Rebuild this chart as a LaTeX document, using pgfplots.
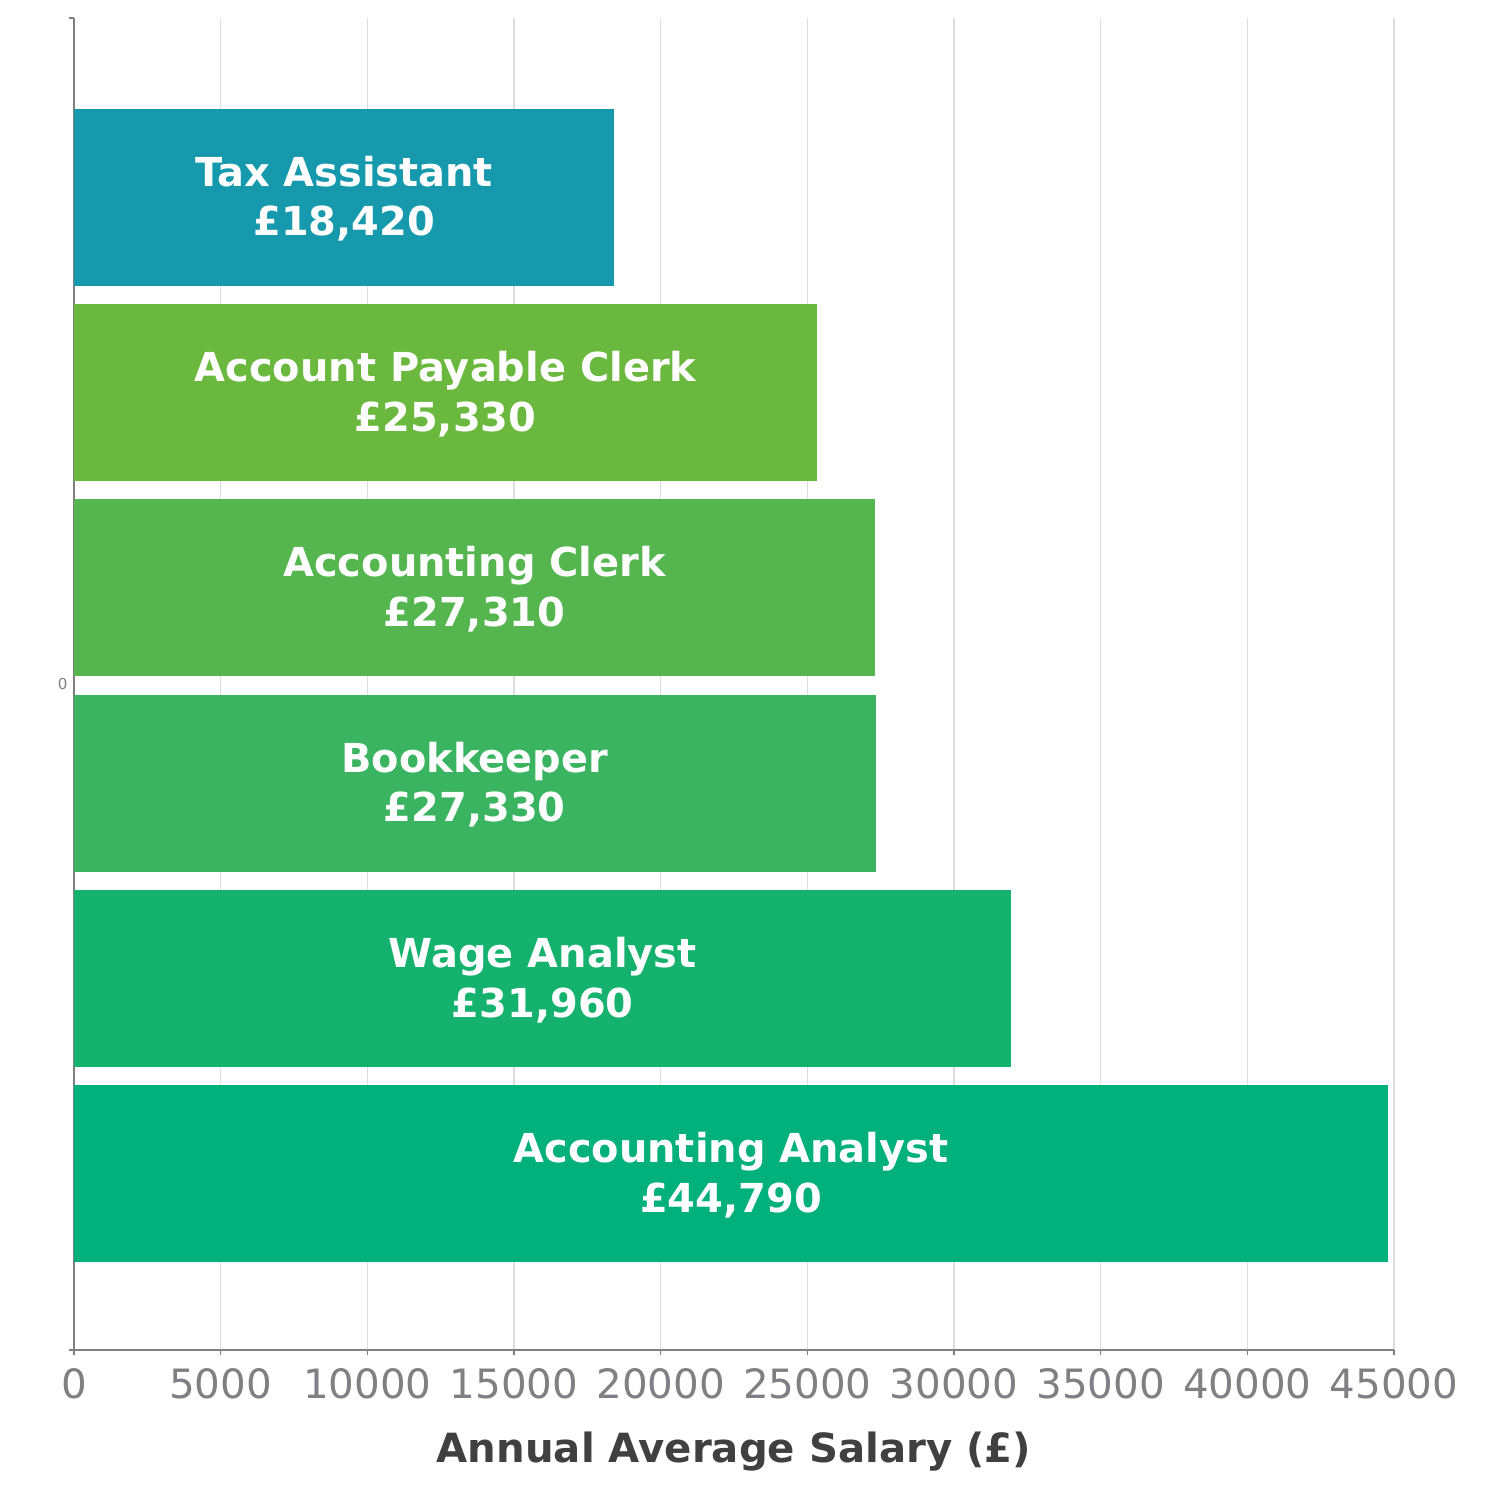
\documentclass[border=0pt]{standalone}
\usepackage{pgfplots}
\pgfplotsset{compat=1.18}
\usepackage{fontspec}
\setmainfont{DejaVu Sans}
\definecolor{cTax}{RGB}{22,153,173}
\definecolor{cPay}{RGB}{106,184,62}
\definecolor{cClerk}{RGB}{85,182,80}
\definecolor{cBook}{RGB}{58,180,96}
\definecolor{cWage}{RGB}{21,177,110}
\definecolor{cAna}{RGB}{2,176,124}
\definecolor{axgray}{RGB}{128,128,128}
\definecolor{tickgray}{RGB}{128,128,132}
\definecolor{gridgray}{RGB}{221,221,221}
\definecolor{labgray}{RGB}{64,64,64}
\begin{document}
\begin{tikzpicture}
\useasboundingbox (-0.74cm,-1.5cm) rectangle (14.26cm,13.5cm);
\begin{axis}[
  scale only axis,
  width=13.2cm, height=13.32cm,
  xmin=0, xmax=45000,
  ymin=-3.41, ymax=3.41,
  axis x line*=bottom,
  axis y line*=left,
  axis line style={axgray, line width=0.45pt},
  xtick={0,5000,...,45000},
  scaled x ticks=false,
  /pgf/number format/assume math mode=true,
  xticklabel={\pgfmathprintnumber[fixed,1000 sep={}]{\tick}},
  xticklabel style={font=\fontsize{11.5}{13}\selectfont, text=tickgray, anchor=base, yshift=-0.43cm},
  major tick length=0.05cm,
  tick align=outside,
  tick style={axgray, line width=0.45pt},
  xmajorgrids,
  grid style={gridgray, line width=0.35pt},
  ytick={-3.41,3.41},
  yticklabels={},
  extra y ticks={0},
  extra y tick labels={0},
  extra y tick style={major tick length=0pt, yticklabel style={font=\fontsize{4.3}{5}\selectfont, text=tickgray, xshift=0.06cm}},
  xlabel={\bfseries Annual Average Salary (£)},
  xlabel style={font=\fontsize{11.45}{14}\selectfont, text=labgray, at={(rel axis cs:0.5,0)}, anchor=base, yshift=-1.12cm},
  xbar, bar shift=-0.0077, bar width=0.906,
  every axis plot/.append style={draw=none},
  clip=false,
]
\addplot[fill=cTax] coordinates {(18420,2.5)};
\addplot[fill=cPay] coordinates {(25330,1.5)};
\addplot[fill=cClerk] coordinates {(27310,0.5)};
\addplot[fill=cBook] coordinates {(27330,-0.5)};
\addplot[fill=cWage] coordinates {(31960,-1.5)};
\addplot[fill=cAna] coordinates {(44790,-2.5)};
\tikzset{lbl/.style={text=white, align=center, font=\bfseries\fontsize{11.35}{14.2}\selectfont, anchor=center, yshift=-0.03cm}}
\node[lbl] at (axis cs:9210,2.5) {Tax Assistant\\£18,420};
\node[lbl] at (axis cs:12665,1.5) {Account Payable Clerk\\£25,330};
\node[lbl] at (axis cs:13655,0.5) {Accounting Clerk\\£27,310};
\node[lbl] at (axis cs:13665,-0.5) {Bookkeeper\\£27,330};
\node[lbl] at (axis cs:15980,-1.5) {Wage Analyst\\£31,960};
\node[lbl] at (axis cs:22395,-2.5) {Accounting Analyst\\£44,790};
\end{axis}
\end{tikzpicture}
\end{document}
